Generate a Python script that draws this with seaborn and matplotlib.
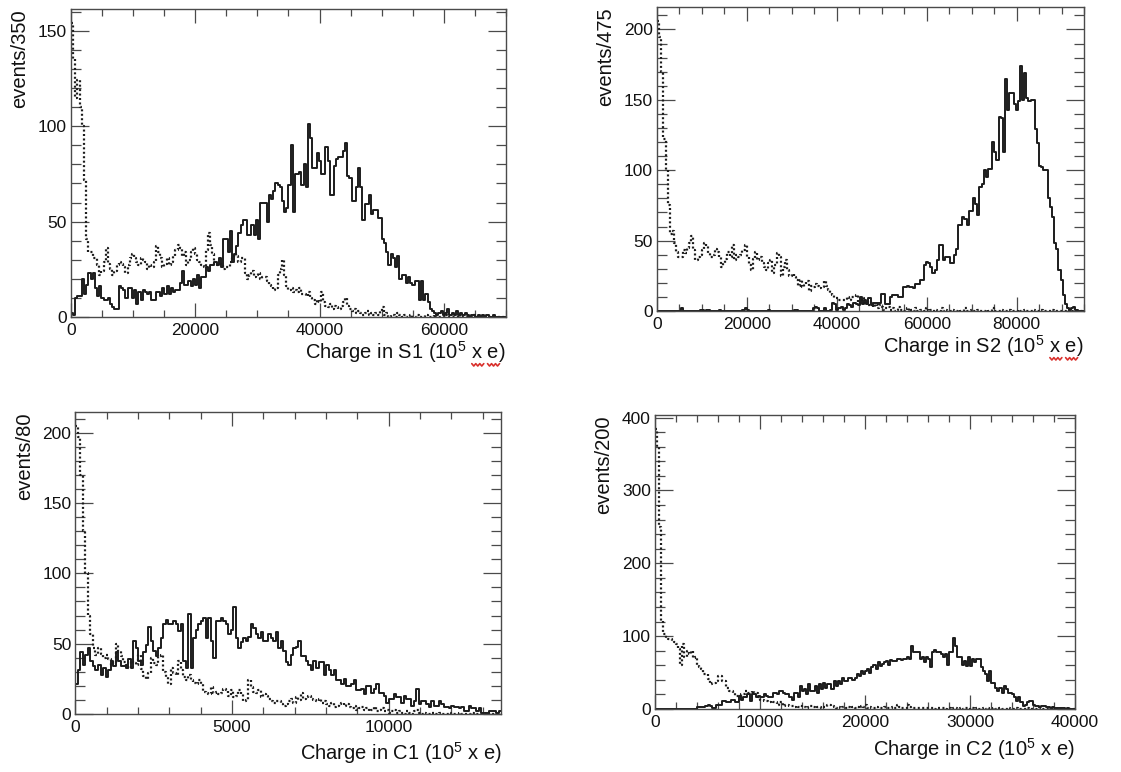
import numpy as np
import pandas as pd
import matplotlib
matplotlib.use("Agg")
import matplotlib.pyplot as plt
import seaborn as sns
from matplotlib.lines import Line2D
from matplotlib.transforms import IdentityTransform
from matplotlib.ticker import MultipleLocator

# bin widths (charge units per bin, as in the axis titles)
S1_WIDTH = 350
S2_WIDTH = 475
C1_WIDTH = 80
C2_WIDTH = 200

# S1: solid = signal, dotted = background (counts per bin)
S1_SOLID = [
    2, 1, 10, 11, 11, 20, 12, 17, 23, 20,
    23, 15, 11, 16, 10, 9, 9, 10, 7, 5,
    4, 4, 16, 15, 14, 10, 15, 15, 10, 14,
    7, 13, 9, 14, 13, 12, 13, 9, 9, 13,
    13, 11, 15, 12, 16, 12, 15, 13, 14, 14,
    18, 24, 17, 17, 19, 16, 20, 17, 22, 15,
    21, 21, 26, 24, 27, 27, 29, 27, 31, 26,
    41, 41, 34, 45, 29, 33, 37, 44, 48, 51,
    51, 43, 43, 48, 43, 51, 41, 60, 60, 60,
    50, 64, 62, 66, 70, 69, 68, 61, 55, 57,
    69, 90, 55, 75, 75, 76, 69, 80, 68, 101,
    94, 78, 78, 86, 82, 75, 75, 89, 82, 64,
    64, 79, 83, 84, 84, 87, 91, 74, 73, 61,
    61, 68, 78, 68, 51, 59, 59, 64, 54, 56,
    56, 52, 52, 41, 39, 34, 27, 33, 31, 26,
    32, 20, 22, 22, 18, 21, 18, 17, 19, 19,
    9, 19, 9, 12, 8, 4, 3, 2, 1, 2,
    3, 1, 2, 4, 1, 2, 1, 3, 1, 2,
    1, 2, 1, 0, 1, 1, 0, 1, 0, 1,
    0, 1, 0, 0, 1, 0, 0, 0, 0, 0,
]
S1_DOTTED = [
    154, 135, 115, 124, 110, 100, 72, 41, 34, 34,
    31, 31, 27, 22, 24, 29, 36, 28, 25, 22,
    24, 27, 29, 28, 26, 23, 27, 31, 33, 31,
    29, 27, 31, 30, 29, 25, 27, 26, 29, 37,
    34, 31, 26, 28, 31, 27, 29, 32, 35, 38,
    36, 32, 34, 27, 30, 34, 36, 33, 30, 29,
    27, 26, 35, 44, 38, 33, 28, 27, 28, 27,
    25, 26, 26, 29, 31, 33, 32, 29, 31, 31,
    23, 20, 22, 24, 21, 22, 23, 20, 21, 21,
    19, 17, 16, 14, 15, 22, 25, 30, 22, 16,
    14, 15, 13, 14, 13, 15, 12, 12, 11, 13,
    10, 9, 7, 9, 8, 13, 8, 6, 5, 7,
    4, 6, 5, 4, 6, 8, 10, 6, 4, 3,
    4, 2, 3, 2, 1, 2, 3, 1, 2, 1,
    2, 1, 3, 5, 1, 2, 0, 1, 1, 0,
    2, 1, 0, 1, 0, 0, 1, 0, 0, 1,
    0, 0, 0, 1, 0, 0, 0, 1, 0, 0,
    0, 0, 1, 0, 0, 0, 0, 0, 1, 0,
    0, 0, 0, 0, 0, 1, 0, 0, 0, 0,
    0, 0, 0, 0, 0, 0, 0, 0, 0, 0,
]

S2_SOLID = [
    0, 0, 0, 0, 0, 0, 0, 0, 0, 0,
    0, 2, 0, 0, 0, 0, 0, 0, 0, 0,
    1, 1, 0, 1, 1, 0, 0, 0, 0, 1,
    0, 0, 0, 0, 0, 0, 0, 0, 0, 0,
    1, 2, 1, 0, 0, 0, 0, 0, 0, 0,
    0, 0, 1, 0, 0, 0, 0, 0, 0, 0,
    0, 0, 0, 0, 1, 1, 0, 0, 0, 0,
    0, 0, 0, 2, 3, 2, 0, 0, 2, 0,
    0, 1, 6, 5, 1, 2, 3, 1, 2, 5,
    4, 3, 6, 5, 4, 10, 5, 8, 5, 9,
    4, 6, 6, 6, 6, 12, 12, 5, 5, 10,
    11, 11, 11, 10, 10, 17, 17, 18, 17, 17,
    16, 19, 19, 22, 22, 33, 35, 34, 31, 27,
    29, 36, 47, 47, 36, 38, 38, 34, 34, 40,
    44, 61, 61, 67, 65, 61, 71, 71, 80, 76,
    68, 88, 90, 100, 95, 101, 101, 120, 113, 107,
    138, 137, 113, 165, 143, 155, 155, 147, 143, 149,
    174, 150, 169, 151, 149, 150, 150, 129, 119, 103,
    102, 100, 100, 80, 74, 67, 48, 44, 29, 22,
    11, 5, 2, 1, 2, 3, 1, 0, 0, 0,
]
S2_DOTTED = [
    206, 195, 170, 122, 100, 75, 55, 57, 48, 42,
    38, 38, 43, 41, 45, 48, 53, 43, 36, 38,
    40, 43, 48, 46, 41, 38, 40, 44, 42, 38,
    31, 34, 37, 42, 38, 47, 36, 40, 38, 40,
    43, 47, 38, 33, 29, 37, 42, 36, 38, 34,
    31, 29, 34, 36, 27, 33, 41, 38, 25, 31,
    36, 29, 25, 26, 24, 22, 18, 22, 17, 19,
    21, 14, 18, 17, 19, 18, 16, 17, 21, 18,
    15, 13, 11, 9, 9, 8, 8, 8, 8, 10,
    8, 10, 10, 11, 6, 8, 9, 5, 7, 4,
    6, 3, 5, 2, 4, 3, 1, 2, 3, 1,
    2, 0, 1, 3, 1, 0, 1, 2, 0, 1,
    0, 2, 0, 1, 1, 0, 2, 0, 1, 0,
    1, 0, 0, 2, 0, 1, 0, 0, 1, 0,
    0, 1, 0, 0, 2, 0, 0, 1, 0, 0,
    1, 0, 0, 0, 1, 0, 0, 2, 0, 0,
    0, 1, 0, 0, 0, 1, 0, 0, 0, 1,
    0, 0, 1, 0, 0, 0, 1, 0, 0, 0,
    1, 0, 0, 0, 0, 1, 0, 0, 0, 0,
    0, 0, 1, 0, 0, 0, 0, 0, 0, 0,
]

C1_SOLID = [
    21, 31, 44, 35, 42, 47, 38, 34, 31, 35,
    28, 33, 26, 31, 38, 34, 44, 38, 34, 34,
    33, 39, 33, 52, 47, 38, 35, 44, 49, 62,
    52, 45, 41, 47, 54, 64, 67, 64, 64, 66,
    64, 59, 64, 38, 33, 71, 33, 54, 60, 64,
    66, 68, 54, 68, 52, 40, 66, 66, 68, 66,
    64, 57, 60, 76, 54, 47, 51, 54, 52, 55,
    64, 61, 57, 54, 58, 52, 52, 57, 54, 52,
    58, 47, 52, 45, 37, 35, 42, 47, 48, 52,
    41, 41, 38, 35, 31, 38, 33, 37, 37, 28,
    35, 31, 28, 31, 24, 24, 21, 25, 20, 20,
    21, 24, 17, 17, 18, 14, 20, 20, 15, 18,
    21, 15, 15, 13, 8, 11, 11, 14, 12, 12,
    8, 13, 11, 11, 6, 9, 18, 7, 9, 9,
    7, 5, 9, 6, 6, 9, 7, 5, 5, 4,
    6, 5, 5, 4, 5, 2, 2, 6, 4, 4,
    2, 4, 1, 1, 1, 2, 2, 2, 1, 2,
]
C1_DOTTED = [
    205, 197, 170, 130, 100, 70, 57, 47, 42, 47,
    43, 40, 42, 39, 35, 36, 50, 45, 41, 37,
    35, 33, 38, 36, 35, 42, 32, 27, 25, 29,
    40, 36, 35, 41, 42, 30, 26, 21, 33, 29,
    28, 38, 31, 26, 24, 28, 24, 22, 21, 24,
    21, 16, 15, 14, 19, 15, 16, 14, 15, 18,
    17, 13, 17, 12, 13, 17, 14, 9, 10, 24,
    19, 16, 15, 17, 12, 14, 13, 11, 9, 8,
    9, 9, 7, 6, 7, 9, 11, 8, 12, 10,
    15, 11, 12, 13, 11, 10, 9, 11, 8, 9,
    7, 6, 8, 5, 6, 7, 8, 6, 7, 5,
    4, 6, 3, 4, 5, 3, 4, 2, 3, 5,
    2, 3, 4, 2, 3, 1, 2, 3, 1, 2,
    1, 0, 2, 1, 0, 2, 3, 1, 0, 1,
    0, 0, 1, 0, 0, 1, 0, 0, 0, 1,
    0, 0, 0, 1, 0, 0, 0, 0, 1, 0,
    0, 0, 0, 0, 1, 0, 0, 0, 0, 0,
]

C2_SOLID = [
    0, 0, 0, 0, 0, 0, 0, 0, 0, 0,
    0, 0, 0, 0, 0, 0, 0, 0, 0, 0,
    3, 3, 3, 3, 4, 6, 4, 2, 2, 6,
    6, 6, 11, 11, 9, 9, 12, 12, 9, 9,
    18, 13, 16, 16, 20, 11, 21, 21, 16, 18,
    16, 16, 20, 18, 17, 17, 22, 22, 20, 25,
    25, 22, 20, 20, 16, 13, 22, 22, 16, 32,
    25, 28, 20, 34, 25, 25, 32, 22, 34, 27,
    36, 29, 34, 34, 27, 39, 32, 38, 34, 43,
    39, 39, 43, 43, 40, 43, 48, 45, 52, 48,
    52, 55, 50, 57, 61, 55, 64, 59, 62, 64,
    66, 61, 67, 66, 66, 68, 68, 67, 68, 68,
    71, 68, 87, 78, 78, 78, 68, 71, 64, 71,
    68, 57, 78, 81, 78, 78, 75, 71, 75, 61,
    78, 78, 98, 87, 71, 71, 61, 66, 59, 71,
    59, 68, 64, 68, 68, 57, 52, 48, 39, 52,
    36, 36, 29, 25, 29, 22, 32, 27, 22, 22,
    20, 16, 11, 16, 9, 4, 6, 9, 11, 11,
    6, 4, 4, 3, 4, 4, 3, 3, 2, 3,
    2, 2, 1, 2, 1, 0, 1, 0, 0, 0,
]
C2_DOTTED = [
    385, 360, 250, 121, 103, 98, 96, 96, 94, 92,
    89, 82, 61, 89, 72, 80, 75, 80, 70, 72,
    61, 58, 55, 48, 48, 41, 34, 36, 36, 39,
    45, 45, 39, 39, 29, 25, 25, 22, 18, 18,
    18, 20, 20, 25, 22, 22, 25, 22, 22, 16,
    13, 13, 11, 11, 10, 11, 9, 9, 6, 9,
    9, 4, 6, 6, 4, 4, 3, 4, 3, 4,
    3, 3, 2, 3, 4, 3, 2, 3, 3, 2,
    3, 3, 5, 6, 4, 3, 2, 3, 2, 3,
    3, 2, 3, 2, 3, 2, 3, 2, 4, 3,
    5, 2, 3, 2, 1, 3, 2, 2, 1, 3,
    2, 1, 2, 3, 2, 5, 3, 2, 1, 2,
    6, 3, 2, 1, 2, 1, 2, 1, 1, 2,
    1, 2, 1, 0, 1, 2, 1, 1, 0, 1,
    1, 0, 1, 1, 0, 1, 0, 2, 1, 0,
    1, 1, 0, 1, 0, 0, 1, 0, 1, 0,
    0, 1, 0, 0, 1, 0, 0, 0, 1, 0,
    0, 0, 1, 0, 0, 0, 0, 1, 0, 0,
    0, 0, 0, 1, 0, 0, 0, 0, 0, 0,
    0, 0, 0, 0, 0, 0, 0, 0, 0, 0,
]

INK = "#1c1c1c"
FRAME = "#4a4a4a"
LABEL_SIZE = 14.5


def draw_panel(ax, width, solid, dotted, xmax, ymax, xlabel, ylabel,
               xmaj, xmin, ymaj, ymin, xlabelpad):
    nbins = len(solid)
    df = pd.DataFrame({
        "charge": (np.arange(nbins) + 0.5) * width,
        "solid": solid,
        "dotted": dotted,
    })
    sns.histplot(data=df, x="charge", weights="solid", bins=nbins,
                 binrange=(0, nbins * width), element="step", fill=False,
                 color=INK, linewidth=1.4, ax=ax)
    sns.histplot(data=df, x="charge", weights="dotted", bins=nbins,
                 binrange=(0, nbins * width), element="step", fill=False,
                 color=INK, linewidth=1.6, linestyle=(0, (0.9, 1.1)), ax=ax)
    ax.set_xlim(0, xmax)
    ax.set_ylim(0, ymax)
    ax.xaxis.set_major_locator(MultipleLocator(xmaj))
    ax.xaxis.set_minor_locator(MultipleLocator(xmin))
    ax.yaxis.set_major_locator(MultipleLocator(ymaj))
    ax.yaxis.set_minor_locator(MultipleLocator(ymin))
    ax.tick_params(axis="x", which="major", length=10)
    ax.tick_params(axis="x", which="minor", length=5)
    ax.tick_params(axis="y", which="major", length=13)
    ax.tick_params(axis="y", which="minor", length=7)
    ax.tick_params(which="both", direction="in", top=True, right=True,
                   width=0.9, color=FRAME, labelsize=12.5, labelcolor="#111")
    ax.tick_params(axis="x", pad=4)
    ax.tick_params(axis="y", pad=3)
    for sp in ax.spines.values():
        sp.set_color(FRAME)
        sp.set_linewidth(1.0)
    ax.set_xlabel(xlabel, loc="right", fontsize=LABEL_SIZE, labelpad=xlabelpad, color="#111")
    ax.set_ylabel(ylabel, loc="top", fontsize=LABEL_SIZE, labelpad=6, color="#111")


def spellcheck_marks(fig, ax, renderer):
    # red wavy underline under "x" and "e" of the axis title (as in the source document)
    label = ax.xaxis.label
    bb = label.get_window_extent(renderer)

    def width(s):
        t = fig.text(0, 0, s, fontsize=LABEL_SIZE)
        w = t.get_window_extent(renderer).width
        t.remove()
        return w

    right = bb.x1
    spans = [(right - width("x e)"), right - width(" e)")),
             (right - width("e)"), right - width(")"))]
    y0 = bb.y0
    for a, b in spans:
        xs = np.arange(a - 0.5, b + 1.5, 2.0)
        ys = y0 + np.where(np.arange(len(xs)) % 2 == 0, 1.2, -1.2)
        fig.add_artist(Line2D(xs, ys, transform=IdentityTransform(),
                              color="#d9302c", linewidth=1.2))


def main():
    sns.set_style("ticks")
    plt.rcParams["font.family"] = ["Liberation Sans", "DejaVu Sans"]
    plt.rcParams["mathtext.fontset"] = "custom"
    plt.rcParams["mathtext.rm"] = "Liberation Sans"

    fig = plt.figure(figsize=(11.21, 7.72), dpi=100)
    ax_s1 = fig.add_axes([0.0633, 0.5894, 0.3880, 0.3990])
    ax_s2 = fig.add_axes([0.5861, 0.5972, 0.3809, 0.3938])
    ax_c1 = fig.add_axes([0.0673, 0.0751, 0.3800, 0.3912])
    ax_c2 = fig.add_axes([0.5843, 0.0816, 0.3747, 0.3808])

    draw_panel(ax_s1, S1_WIDTH, S1_SOLID, S1_DOTTED, 70000, 161.5,
               r"Charge in S1 ($\mathregular{10^{5}}$ x e)", "events/350",
               20000, 5000, 50, 10, 1)
    draw_panel(ax_s2, S2_WIDTH, S2_SOLID, S2_DOTTED, 95000, 216,
               r"Charge in S2 ($\mathregular{10^{5}}$ x e)", "events/475",
               20000, 5000, 50, 10, 1)
    draw_panel(ax_c1, C1_WIDTH, C1_SOLID, C1_DOTTED, 13600, 214.7,
               r"Charge in C1 ($\mathregular{10^{5}}$ x e)", "events/80",
               5000, 1000, 50, 10, 4)
    draw_panel(ax_c2, C2_WIDTH, C2_SOLID, C2_DOTTED, 40000, 403.6,
               r"Charge in C2 ($\mathregular{10^{5}}$ x e)", "events/200",
               10000, 2000, 100, 20, 5)

    fig.canvas.draw()
    renderer = fig.canvas.get_renderer()
    spellcheck_marks(fig, ax_s1, renderer)
    spellcheck_marks(fig, ax_s2, renderer)

    fig.savefig("out.png", dpi=100, facecolor="white")


if __name__ == "__main__":
    main()
